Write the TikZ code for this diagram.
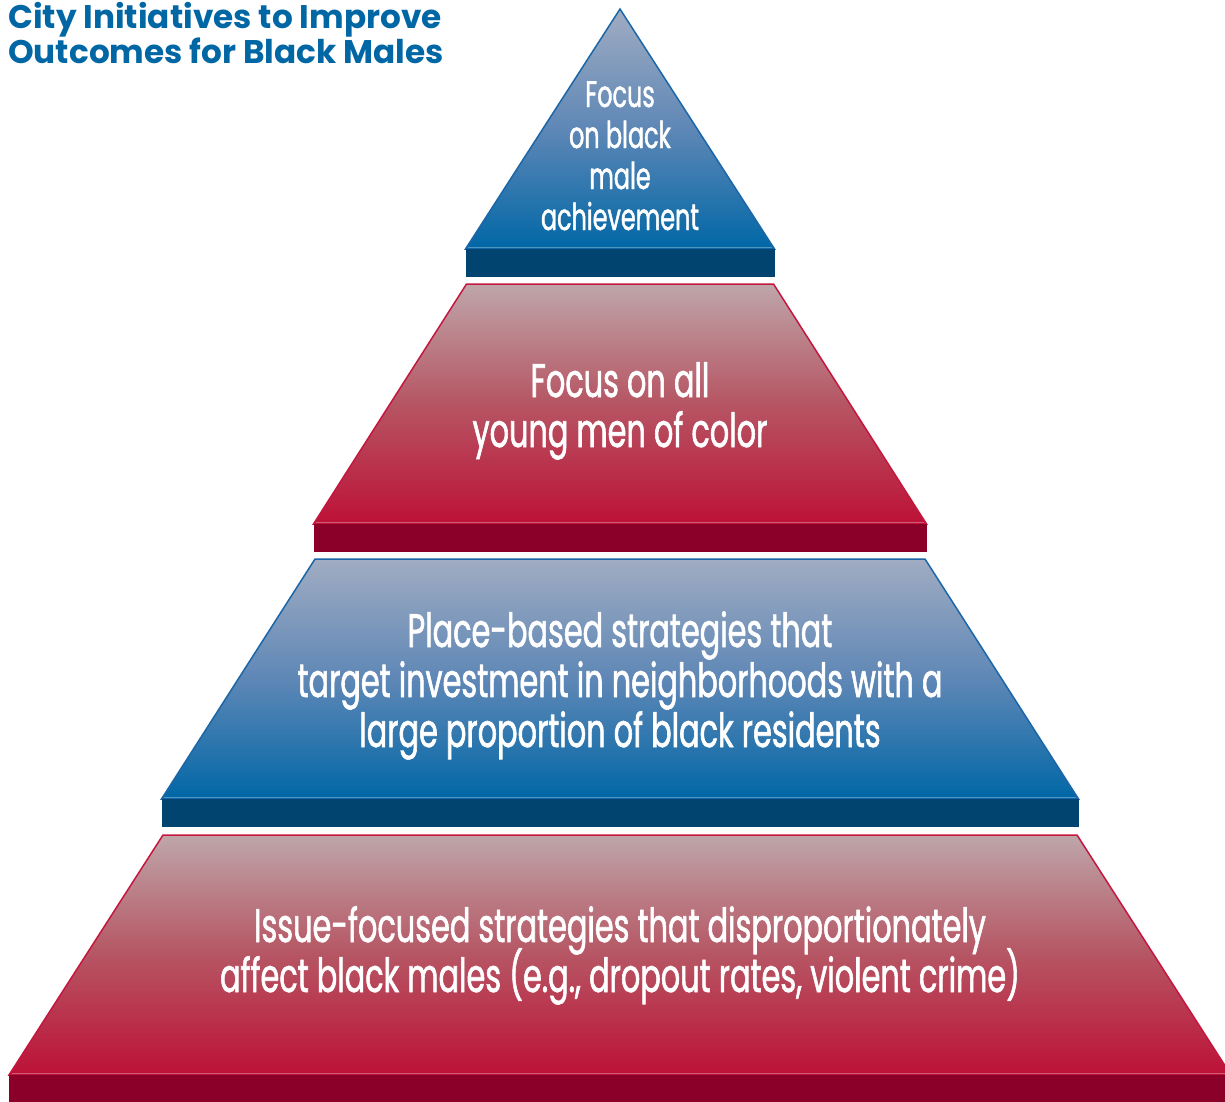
\documentclass[tikz,border=0pt]{standalone}
\usepackage{fontspec}
\newfontfamily\condfont[FakeStretch=0.645,FakeBold=1.2]{Poppins}
\newfontfamily\titlefont{Poppins}
\definecolor{bluetop}{HTML}{A0ACC2}
\definecolor{bluemid}{HTML}{5E87B6}
\definecolor{bluebot}{HTML}{0067A6}
\definecolor{bluedark}{HTML}{00446F}
\definecolor{blueline}{HTML}{1A66A8}
\definecolor{redtop}{HTML}{BEA6A9}
\definecolor{redmid}{HTML}{B65563}
\definecolor{redbot}{HTML}{BD1137}
\definecolor{reddark}{HTML}{8A0028}
\definecolor{redline}{HTML}{C4163E}
\definecolor{titleblue}{HTML}{0066A4}
\tikzset{
  blueface/.style={top color=bluetop, bottom color=bluebot, middle color=bluemid, draw=blueline, line width=1.5pt, line join=miter},
  redface/.style={top color=redtop, bottom color=redbot, middle color=redmid, draw=redline, line width=1.5pt, line join=miter},
  bluebase/.style={fill=bluedark, draw=none},
  redbase/.style={fill=reddark, draw=none},
  bevel/.style={draw=white, draw opacity=0.3, line width=1pt},
  biglbl/.style={text=white, font=\condfont\fontsize{47}{50}\selectfont, anchor=base, inner sep=0pt},
  smalllbl/.style={text=white, font=\condfont\fontsize{37}{41}\selectfont, anchor=base, inner sep=0pt},
  ttl/.style={text=titleblue, font=\titlefont\bfseries\fontsize{32.7}{35}\selectfont, anchor=base west, inner sep=0pt}
}
\begin{document}
\begin{tikzpicture}[x=1pt,y=-1pt]
\clip (0,0) rectangle (1225,1101);
% band 1 (apex)
\path[blueface] (620,9) -- (774.5,249) -- (465.5,249) -- cycle;
\path[bevel] (468,247) -- (772,247);
\path[bluebase] (465.5,249) rectangle (774.5,277);
% band 2
\path[redface] (466.5,284) -- (773.5,284) -- (926.5,524) -- (313.5,524) -- cycle;
\path[bevel] (316,522) -- (924,522);
\path[redbase] (313.5,524) rectangle (926.5,552);
% band 3
\path[blueface] (315,559) -- (925,559) -- (1078.5,799) -- (161.5,799) -- cycle;
\path[bevel] (164,797) -- (1076,797);
\path[bluebase] (161.5,799) rectangle (1078.5,827);
% band 4
\path[redface] (163,835) -- (1077,835) -- (1231,1075) -- (9,1075) -- cycle;
\path[bevel] (12,1073) -- (1228,1073);
\path[redbase] (9,1075) rectangle (1231,1110);
% title
\node[ttl] (title1) at (8,28) {City Initiatives to Improve};
\node[ttl] (title2) at (8,63) {Outcomes for Black Males};
% labels
\node[smalllbl] (a1) at (620,107) {Focus};
\node[smalllbl] (a2) at (620,148) {on black};
\node[smalllbl] (a3) at (620,189) {male};
\node[smalllbl] (a4) at (620,230) {achievement};
\node[biglbl] (b1) at (620,397) {Focus on all};
\node[biglbl] (b2) at (620,447) {young men of color};
\node[biglbl] (c1) at (620,647) {Place-based strategies that};
\node[biglbl] (c2) at (620,697) {target investment in neighborhoods with a};
\node[biglbl] (c3) at (620,747) {large proportion of black residents};
\node[biglbl] (d1) at (620,942) {Issue-focused strategies that disproportionately};
\node[biglbl] (d2) at (620,992) {affect black males (e.g., dropout rates, violent crime)};
\end{tikzpicture}
\end{document}
